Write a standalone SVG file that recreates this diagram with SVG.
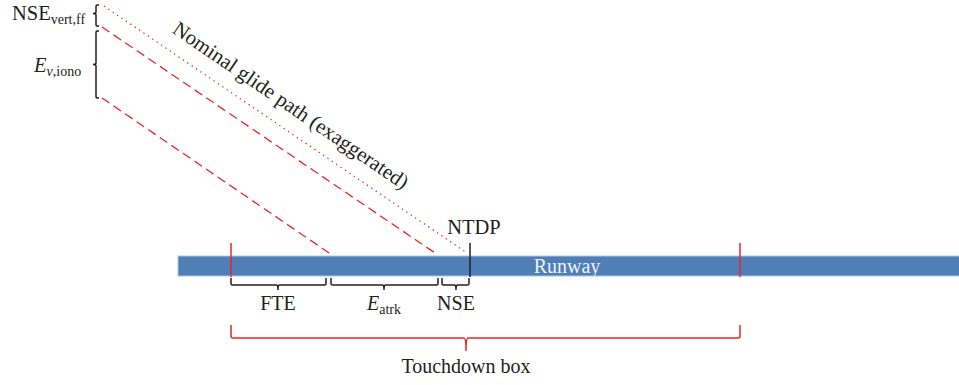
<svg xmlns="http://www.w3.org/2000/svg" width="959" height="385" viewBox="0 0 959 385">
  <style>
    .txt { font-family: "Liberation Serif", "DejaVu Serif", serif; fill: #231f20; }
    .lbl { font-size: 20px; }
    .sub { font-size: 14px; }
    .it { font-style: italic; }
    .brk { fill: none; stroke: #231f20; stroke-width: 1.5; }
    .rbrk { fill: none; stroke: #e8262b; stroke-width: 1.5; }
    .dash { fill: none; stroke: #e8262b; stroke-width: 1.3; stroke-dasharray: 9 5; }
    .dot { fill: none; stroke: #e8262b; stroke-width: 1.3; stroke-dasharray: 1.3 4; }
    .tick { stroke: #e8262b; stroke-width: 1.5; }
  </style>

  <!-- runway -->
  <g id="runway">
    <rect x="178" y="256" width="782" height="20" fill="#4f7fb6" stroke="#b3c8e2" stroke-width="1"/>
    <text x="567" y="273" text-anchor="middle" class="txt" font-size="20" style="fill:#eef2f8">Runway</text>
  </g>

  <!-- glide path lines -->
  <g id="connectors">
    <line class="dot" x1="104" y1="6" x2="467" y2="253"/>
    <line class="dash" x1="102" y1="27" x2="438" y2="255"/>
    <line class="dash" x1="102" y1="98" x2="332" y2="255"/>
  </g>

  <!-- touchdown box limits and NTDP marker -->
  <g id="markers">
    <line class="tick" x1="231" y1="243" x2="231" y2="277"/>
    <line class="tick" x1="740" y1="243" x2="740" y2="277"/>
    <line x1="470" y1="243" x2="470" y2="277" stroke="#231f20" stroke-width="1.5"/>
  </g>

  <g id="ntdp">
    <text x="474" y="234" text-anchor="middle" class="txt" font-size="20.5">NTDP</text>
  </g>

  <!-- glide path label -->
  <g id="glide-label">
    <text transform="translate(287,111) rotate(34.3)" text-anchor="middle" class="txt" font-size="20.8">Nominal glide path (exaggerated)</text>
  </g>

  <!-- vertical error braces -->
  <g id="nse-vert">
    <path class="brk" d="M99,5 H97 Q96,5 96,6.5 V12 Q96,13.5 93,13.5 Q96,13.5 96,15 V24.5 Q96,26 97,26 H99"/>
    <text x="12" y="20" class="txt" font-size="20.5">NSE<tspan class="sub" dy="4">vert,ff</tspan></text>
  </g>

  <g id="ev-iono">
    <path class="brk" d="M99,31 H97 Q96,31 96,32.5 V63 Q96,64.5 93,64.5 Q96,64.5 96,66 V96.5 Q96,98 97,98 H99"/>
    <text x="34" y="72" class="txt" font-size="20.5"><tspan class="it">E</tspan><tspan class="sub" dy="4"><tspan class="it">v</tspan>,iono</tspan></text>
  </g>

  <!-- along-track error braces -->
  <g id="fte">
    <path class="brk" d="M231,278 V283.5 Q231,285 232.5,285 H276.5 Q278,285 278,290 Q278,285 279.5,285 H324.5 Q326,285 326,283.5 V278"/>
    <text x="278" y="310" text-anchor="middle" class="txt lbl">FTE</text>
  </g>

  <g id="eatrk">
    <path class="brk" d="M331,278 V283.5 Q331,285 332.5,285 H382.5 Q384,285 384,290 Q384,285 385.5,285 H436.5 Q438,285 438,283.5 V278"/>
    <text x="384" y="310" text-anchor="middle" class="txt lbl"><tspan class="it">E</tspan><tspan class="sub" dy="4">atrk</tspan></text>
  </g>

  <g id="nse">
    <path class="brk" d="M442,278 V283.5 Q442,285 443.5,285 H454.5 Q456,285 456,290 Q456,285 457.5,285 H467.5 Q469,285 469,283.5 V278"/>
    <text x="456" y="310" text-anchor="middle" class="txt lbl">NSE</text>
  </g>

  <!-- touchdown box brace -->
  <g id="touchdown-box">
    <path class="rbrk" d="M231,325 V336 Q231,338 233,338 H464 Q466,338 466,351 Q466,338 468,338 H738 Q740,338 740,336 V325"/>
    <text x="466" y="373" text-anchor="middle" class="txt lbl">Touchdown box</text>
  </g>
</svg>
